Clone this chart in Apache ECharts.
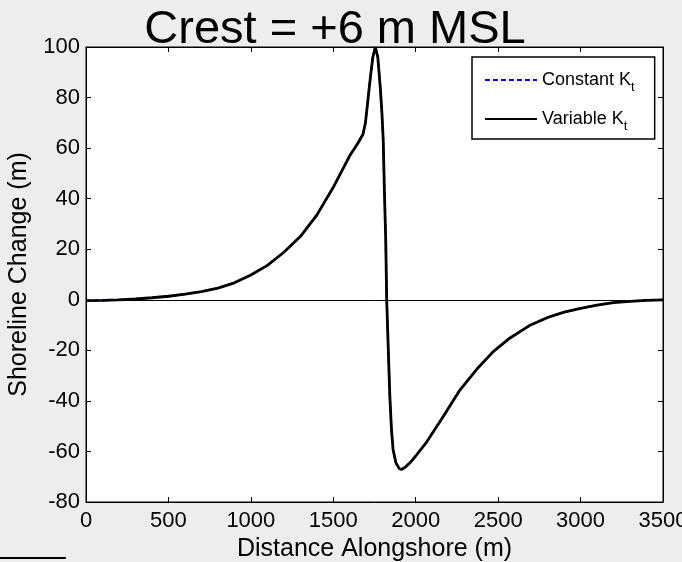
<!DOCTYPE html>
<html>
<head>
<meta charset="utf-8">
<script src="https://cdn.jsdelivr.net/npm/echarts@6/dist/echarts.min.js"></script>
<style>
html,body{margin:0;padding:0;background:#eceeed;}
#c{width:682px;height:562px;}
</style>
</head>
<body>
<div id="c"></div>
<script>
var titleText = 'Crest = +6 m MSL';
var xTicks = [0, 500, 1000, 1500, 2000, 2500, 3000, 3500];
var yTicks = [-80, -60, -40, -20, 0, 20, 40, 60, 80, 100];
var distance = [0,100,200,300,400,500,600,700,800,900,1000,1100,1200,1300,1400,1500,1600,1650,1680,1695,1710,1725,1740,1755,1770,1785,1795,1803,1810,1818,1824,1833,1843,1853,1863,1880,1900,1915,1935,1965,2000,2066,2167,2268,2370,2470,2570,2690,2800,2900,3000,3100,3200,3300,3400,3500];
var variableKt = [-0.3,-0.2,0.0,0.3,0.8,1.4,2.2,3.2,4.6,6.7,9.8,13.6,18.8,25.0,33.5,44.5,57.0,62.0,65.5,70,79,88,96,100,96,84,74,63,43,24,0,-18.5,-38,-51.5,-59.4,-64.5,-66.8,-67.1,-66.3,-64.5,-61.8,-56.3,-46.2,-35.7,-27.5,-20.5,-15.2,-10.2,-7.0,-4.9,-3.4,-2.1,-1.1,-0.6,-0.2,0.0];
var constantKt = [-0.3,-0.2,0.0,0.3,0.8,1.4,2.2,3.2,4.6,6.7,9.8,13.6,18.8,25.0,33.5,44.5,57.0,62.0,65.5,70,79,88,96,100,96,84,74,63,43,24,0,-18.5,-38,-51.5,-59.4,-64.5,-66.8,-67.1,-66.3,-64.5,-61.8,-56.3,-46.2,-35.7,-27.5,-20.5,-15.2,-10.2,-7.0,-4.9,-3.4,-2.1,-1.1,-0.6,-0.2,0.0];
var seriesNames = ['Constant Kt', 'Variable Kt'];

function zip(xs, ys){ return xs.map(function(x,i){ return [x, ys[i]]; }); }

var FONT = '"Liberation Sans", Arial, sans-serif';
var chart = echarts.init(document.getElementById('c'), null, {renderer:'canvas'});
var axisCommon = {
  axisLine:{show:true, onZero:false, lineStyle:{color:'#000', width:1}},
  axisTick:{show:true, inside:true, length:5, lineStyle:{color:'#000'}},
  splitLine:{show:false}
};
chart.setOption({
  backgroundColor:'#eceeed',
  animation:false,
  title:{
    text:titleText, left:335, top:7, padding:0, textAlign:'center',
    textStyle:{fontFamily:FONT, fontSize:47, fontWeight:'normal', color:'#000'}
  },
  grid:{left:86, right:19, top:47, bottom:60, show:true, backgroundColor:'#fff', borderColor:'#000', borderWidth:1,
        containLabel:false, outerBoundsMode:'none'},
  legend:{
    orient:'vertical', left:472, top:57,
    backgroundColor:'#fff', borderColor:'#000', borderWidth:1.5,
    padding:[14,20,6,12], itemWidth:52, itemHeight:18, itemGap:16,
    data:seriesNames,
    itemStyle:{opacity:0, color:'transparent', borderWidth:0},
    formatter:function(n){ return '{n|' + n.slice(0, -1) + '}{s|' + n.slice(-1) + '}'; },
    textStyle:{fontFamily:FONT, color:'#000',
      rich:{ n:{fontFamily:FONT, fontSize:18, color:'#000', lineHeight:28, verticalAlign:'middle'},
             s:{fontFamily:FONT, fontSize:13, color:'#000', lineHeight:10, verticalAlign:'bottom'} } }
  },
  xAxis:[Object.assign({
    type:'value', min:xTicks[0], max:xTicks[xTicks.length-1], interval:500, position:'bottom',
    name:'Distance Alongshore (m)', nameLocation:'middle', nameGap:33,
    nameTextStyle:{fontFamily:FONT, fontSize:25, color:'#000'},
    axisLabel:{fontFamily:FONT, fontSize:22, color:'#000', margin:8, formatter:function(v){return String(v);}}
  }, axisCommon), Object.assign({
    type:'value', min:xTicks[0], max:xTicks[xTicks.length-1], interval:500, position:'top',
    axisLabel:{show:false}
  }, axisCommon)],
  yAxis:[Object.assign({
    type:'value', min:yTicks[0], max:yTicks[yTicks.length-1], interval:20, position:'left',
    name:'Shoreline Change (m)', nameLocation:'middle', nameGap:54,
    nameTextStyle:{fontFamily:FONT, fontSize:25, color:'#000'},
    axisLabel:{fontFamily:FONT, fontSize:22, color:'#000', margin:6, formatter:function(v){return String(v);}}
  }, axisCommon), Object.assign({
    type:'value', min:yTicks[0], max:yTicks[yTicks.length-1], interval:20, position:'right',
    axisLabel:{show:false}
  }, axisCommon)],
  series:[
    {name:seriesNames[0], type:'line', data:zip(distance, constantKt), symbol:'none',
     lineStyle:{color:'#0000ff', width:2, type:[5,3]}, itemStyle:{color:'#0000ff'}, z:2,
     markLine:{silent:true, symbol:'none', label:{show:false}, lineStyle:{color:'#000', width:1, type:'solid'}, data:[{yAxis:0}]}},
    {name:seriesNames[1], type:'line', data:zip(distance, variableKt), symbol:'none',
     lineStyle:{color:'#000', width:2.8, type:'solid'}, itemStyle:{color:'#000'}, z:3}
  ],
  graphic:[{type:'rect', shape:{x:0, y:557, width:66, height:2}, style:{fill:'#000'}}]
});
</script>
</body>
</html>
